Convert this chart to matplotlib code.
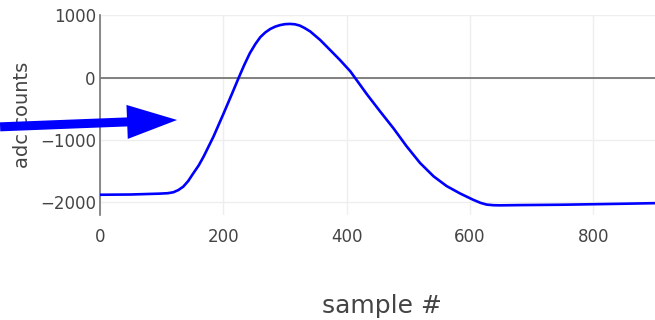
import numpy as np
import matplotlib
matplotlib.use("Agg")
import matplotlib.pyplot as plt

# waveform (sample #, adc counts)
samples = [0, 50, 97, 110, 119, 127, 135, 143, 151, 160, 168, 184, 200, 214,
           225, 234, 243, 252, 260, 268, 276, 284, 292, 300, 308, 316, 324,
           332, 341, 357, 373, 389, 406, 414, 433, 454, 476, 497, 519, 541,
           562, 584, 605, 617, 627, 638, 649, 681, 750, 800, 850, 900]
counts = [-1880, -1876, -1862, -1855, -1840, -1805, -1750, -1660, -1540,
          -1410, -1268, -947, -585, -260, 0, 205, 392, 540, 650, 725, 780,
          818, 843, 858, 862, 856, 835, 795, 740, 605, 445, 284, 100, -10,
          -270, -540, -815, -1100, -1370, -1585, -1740, -1860, -1960, -2010,
          -2038, -2048, -2050, -2046, -2040, -2032, -2024, -2015]

x_ticks = [0, 200, 400, 600, 800]
y_ticks = [-2000, -1000, 0, 1000]

fig = plt.figure(figsize=(6.55, 3.2), dpi=100)
ax = fig.add_axes([100 / 655, 105 / 320, 555 / 655, 200 / 320])

ax.plot(samples, counts, color="#0000ff", lw=1.9, zorder=3)
ax.axhline(0, color="#777777", lw=1.3, zorder=2)

ax.set_xlim(0, 900)
ax.set_ylim(-2205, 1005)
ax.set_xticks(x_ticks)
ax.set_yticks(y_ticks)
ax.set_yticklabels(["\u22122000", "\u22121000", "0", "1000"])
ax.grid(True, color="#eeeeee", lw=1, zorder=0)
ax.set_axisbelow(True)

for s in ["top", "right", "bottom"]:
    ax.spines[s].set_visible(False)
ax.spines["left"].set_color("#777777")
ax.spines["left"].set_linewidth(1.2)

ax.tick_params(axis="both", length=0, labelsize=12, labelcolor="#444444")
ax.tick_params(axis="x", pad=9)
ax.tick_params(axis="y", pad=3)

ax.set_ylabel("adc counts", fontsize=14, color="#444444", va="center")
ax.yaxis.set_label_coords(-0.14, 0.5)
ax.set_xlabel("sample #", fontsize=18, color="#444444", va="center")
ax.xaxis.set_label_coords(0.508, -0.455)

# arrow pointing at the rising edge
ax.annotate("", xy=(125, -680), xytext=(-162, -790), annotation_clip=False,
            arrowprops=dict(arrowstyle="simple,head_length=3.6,head_width=2.45,tail_width=0.65",
                            mutation_scale=10, color="#0000ff", shrinkA=0, shrinkB=0,
                            lw=0))

fig.savefig("out.png", dpi=100)
